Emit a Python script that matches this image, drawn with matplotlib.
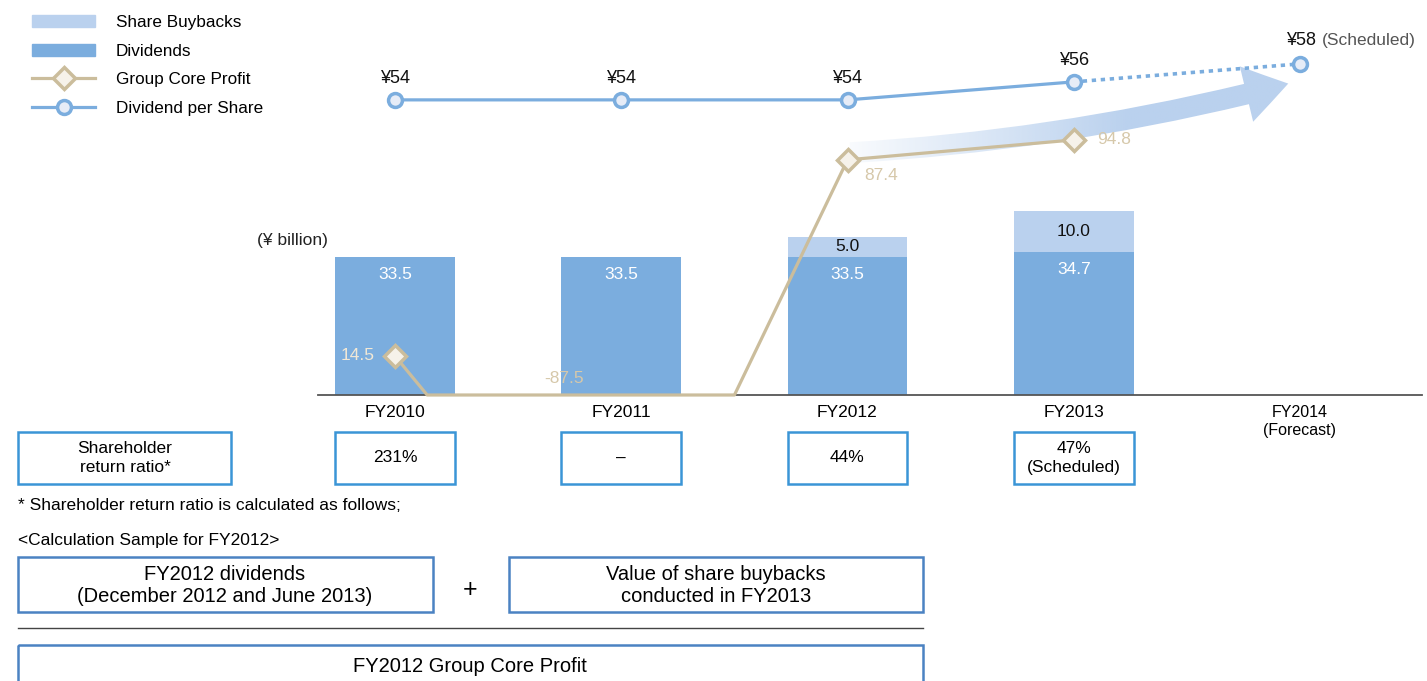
import numpy as np
import matplotlib
matplotlib.use("Agg")
import matplotlib.pyplot as plt
from matplotlib.patches import Rectangle, Patch, FancyArrowPatch, ArrowStyle
from matplotlib.lines import Line2D
from matplotlib.transforms import blended_transform_factory

plt.rcParams['font.family'] = ['Liberation Sans', 'DejaVu Sans']

# data
years = ['FY2010', 'FY2011', 'FY2012', 'FY2013', 'FY2014\n(Forecast)']
dividends = [33.5, 33.5, 33.5, 34.7]
buybacks = [0.0, 0.0, 5.0, 10.0]
core_profit = [14.5, -87.5, 87.4, 94.8]
dps = [54, 54, 54, 56, 58]
dps_labels = ['¥54', '¥54', '¥54', '¥56', '¥58']
return_ratio = ['231%', '–', '44%', '47%\n(Scheduled)']

c_div = '#7badde'
c_buy = '#bad1ee'
c_profit = '#cbbd9c'
c_profit_face = '#f6f2ea'
c_box = '#3b95d6'
c_box2 = '#4b82c2'

W, H = 1427, 681
fig = plt.figure(figsize=(W / 100, H / 100), dpi=100)

# overlay in pixel coordinates for the text boxes below the chart
ov = fig.add_axes([0, 0, 1, 1])
ov.set_xlim(0, W)
ov.set_ylim(H, 0)
ov.axis('off')
ov.patch.set_alpha(0)

# main chart area
left, right, base = 318, 1422, 395
step = 226.25
ax = fig.add_axes([left / W, 1 - base / H, (right - left) / W, base / H])
ax.patch.set_alpha(0)
x = np.arange(len(years))
xlim = (-(395 - left) / step, (right - 395) / step)

bw = 0.53
ax.bar(x[:4], dividends, width=bw, color=c_div, zorder=2)
ax.bar(x[:4], buybacks, bottom=dividends, width=bw, color=c_buy, zorder=2)
for xi, d, b in zip(x, dividends, buybacks):
    ax.annotate(f'{d:.1f}', (xi, d), xytext=(0, -12.5), textcoords='offset points',
                ha='center', va='center', color='white', fontsize=12.5)
    if b > 0:
        ax.annotate(f'{b:.1f}', (xi, d + b / 2), ha='center', va='center',
                    color='#111111', fontsize=12.5)
ax.set_ylim(0, 96)
ax.set_xlim(*xlim)
for s in ['top', 'right', 'left']:
    ax.spines[s].set_visible(False)
ax.spines['bottom'].set_color('#555555')
ax.spines['bottom'].set_linewidth(1.3)
ax.set_yticks([])
ax.set_xticks(x)
ax.set_xticklabels(years, fontsize=12.5)
ax.get_xticklabels()[-1].set_fontsize(11.5)
ax.get_xticklabels()[-1].set_linespacing(1.3)
ax.tick_params(axis='x', length=0, pad=7)

# group core profit, clipped at zero like the original
ax2 = ax.twinx()
ax2.set_ylim(0, 146.8)
ax2.axis('off')
px, py = [], []
for i in range(len(core_profit)):
    px.append(x[i])
    py.append(core_profit[i])
    if i < len(core_profit) - 1:
        y0, y1 = core_profit[i], core_profit[i + 1]
        if y0 * y1 < 0:
            px.append(x[i] + y0 / (y0 - y1))
            py.append(0)
py = np.maximum(py, 0)
ax2.plot(px, py, color=c_profit, lw=2.3, clip_on=False, zorder=3)
pos = np.array(core_profit) >= 0
ax2.plot(x[:4][pos], np.array(core_profit)[pos], ls='none', marker='D', ms=11,
         mfc=c_profit_face, mec=c_profit, mew=2.5, zorder=4)
ax2.annotate('14.5', (0, 14.5), xytext=(-27, 0), textcoords='offset points',
             ha='center', va='center', color='#f1e8d6', fontsize=12.5)
ax2.annotate('-87.5', (1, 0), xytext=(-41, 12), textcoords='offset points',
             ha='center', va='center', color='#d6c8aa', fontsize=12.5)
ax2.annotate('87.4', (2, 87.4), xytext=(24, -11), textcoords='offset points',
             ha='center', va='center', color='#d6c8aa', fontsize=12.5)
ax2.annotate('94.8', (3, 94.8), xytext=(29, 0), textcoords='offset points',
             ha='center', va='center', color='#d6c8aa', fontsize=12.5, zorder=5)

# gradient arrow
arrow = FancyArrowPatch((2.0, 90), (3.96, 116),
                        arrowstyle=ArrowStyle.Simple(head_length=31, head_width=41, tail_width=15),
                        connectionstyle='arc3,rad=0.05', mutation_scale=1,
                        facecolor='none', edgecolor='none', zorder=1)
ax2.add_patch(arrow)
grad = np.zeros((2, 256, 4))
rgb = matplotlib.colors.to_rgb(c_buy)
grad[..., :3] = rgb
grad[..., 3] = np.clip(np.linspace(0.05, 1.6, 256), 0, 1)
im = ax2.imshow(grad, extent=(1.95, 4.05, 70, 150), aspect='auto', zorder=1,
                interpolation='bilinear')
im.set_clip_path(arrow)
ax2.set_ylim(0, 146.8)
ax2.set_xlim(*xlim)

# dividend per share
ax3 = ax.twinx()
ax3.set_ylim(21.2, 65.1)
ax3.axis('off')
ax3.plot(x[:4], dps[:4], color=c_div, lw=2.3, zorder=3)
ax3.plot(x[3:], dps[3:], color=c_div, lw=2.6, dashes=(1.2, 1.3), zorder=3)
ax3.plot(x, dps, ls='none', marker='o', ms=10, mfc='#e6ecf7', mec=c_div, mew=2.5,
         zorder=4, clip_on=False)
for xi, v, lab in zip(x[:4], dps[:4], dps_labels[:4]):
    ax3.annotate(lab, (xi, v), xytext=(0, 15.5), textcoords='offset points',
                 ha='center', va='center', fontsize=13, color='#111111')
ax3.annotate(dps_labels[4], (4, dps[4]), xytext=(-10, 16.5), textcoords='offset points',
             ha='left', va='center', fontsize=13, color='#111111')
ax3.annotate('(Scheduled)', (4, dps[4]), xytext=(16, 16.5), textcoords='offset points',
             ha='left', va='center', fontsize=12.5, color='#555555')
ax3.set_xlim(*xlim)

ov.text(292, 240, '(¥ billion)', ha='center', va='center', fontsize=12.5, color='#222222')

# legend
handles = [Patch(color=c_buy), Patch(color=c_div),
           Line2D([], [], color=c_profit, lw=2.3, marker='D', ms=11, mfc=c_profit_face,
                  mec=c_profit, mew=2.5),
           Line2D([], [], color=c_div, lw=2.3, marker='o', ms=10, mfc='#e6ecf7',
                  mec=c_div, mew=2.5)]
fig.legend(handles, ['Share Buybacks', 'Dividends', 'Group Core Profit', 'Dividend per Share'],
           loc='upper left', bbox_to_anchor=(32 / W, 1 - 15 / H), frameon=False,
           fontsize=12.3, handlelength=3.7, handletextpad=1.2, labelspacing=0.8,
           borderpad=0, borderaxespad=0)

# shareholder return ratio boxes
bt = blended_transform_factory(ax.transData, ov.transData)
ov.add_patch(Rectangle((18, 432), 213, 52, fill=False, ec=c_box, lw=1.8))
ov.text(125, 458, 'Shareholder\nreturn ratio*', ha='center', va='center', fontsize=12.5,
        linespacing=1.3)
for xi, r in zip(x[:4], return_ratio):
    ov.add_patch(Rectangle((xi - bw / 2, 432), bw, 52, fill=False, ec=c_box, lw=1.8,
                           transform=bt))
    ov.text(xi, 458, r, ha='center', va='center', fontsize=12.5, transform=bt,
            linespacing=1.3)

ov.text(18, 505, '* Shareholder return ratio is calculated as follows;', ha='left',
        va='center', fontsize=12.5)
ov.text(18, 540, '<Calculation Sample for FY2012>', ha='left', va='center', fontsize=12.5)

ov.add_patch(Rectangle((18, 557), 415, 55, fill=False, ec=c_box2, lw=1.8))
ov.text(225, 585, 'FY2012 dividends\n(December 2012 and June 2013)', ha='center',
        va='center', fontsize=14.5, linespacing=1.2)
ov.text(470, 590, '+', ha='center', va='center', fontsize=18)
ov.add_patch(Rectangle((509, 557), 414, 55, fill=False, ec=c_box2, lw=1.8))
ov.text(716, 585, 'Value of share buybacks\nconducted in FY2013', ha='center',
        va='center', fontsize=14.5, linespacing=1.2)
ov.plot([18, 923], [628, 628], color='#444444', lw=1)
ov.add_patch(Rectangle((18, 645), 905, 60, fill=False, ec=c_box2, lw=1.8))
ov.text(470, 666, 'FY2012 Group Core Profit', ha='center', va='center', fontsize=14.5)

fig.savefig('out.png', dpi=100)
